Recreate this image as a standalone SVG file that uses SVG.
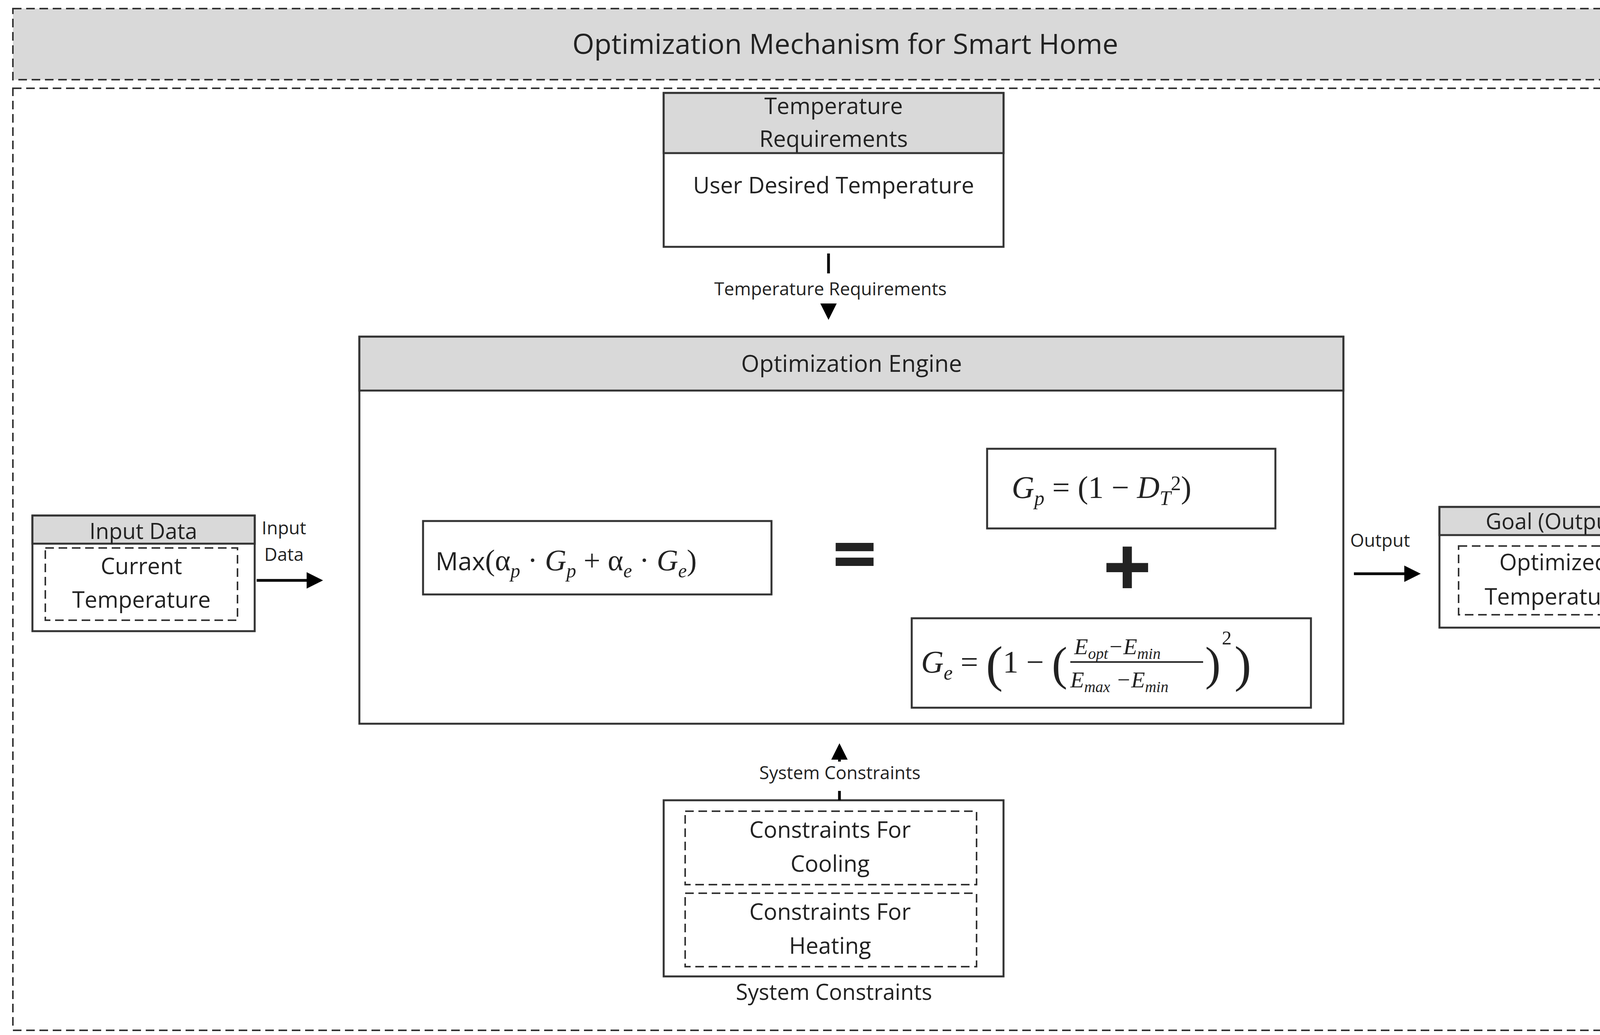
<svg xmlns="http://www.w3.org/2000/svg" width="4309" height="2650" viewBox="0 0 4309 2650">
<style>
.t{font-family:"Open Sans","Liberation Sans",sans-serif;fill:#222;text-anchor:middle}
.m{font-family:"Liberation Serif","DejaVu Serif",serif;fill:#222}
.i{font-style:italic}
.box{fill:#fff;stroke:#333;stroke-width:5}
.hd{fill:#d9d9d9;stroke:#333;stroke-width:5}
.dash{fill:none;stroke:#333;stroke-width:4;stroke-dasharray:22 12}
.ln{stroke:#000;stroke-width:7;fill:none}
</style>
<defs>
<marker id="ah" markerWidth="6" markerHeight="6" refX="5" refY="3" orient="auto" markerUnits="strokeWidth"><path d="M0,0 L6,3 L0,6 Z" fill="#000"/></marker>
</defs>
<rect width="4309" height="2650" fill="#fff"/>
<g id="title">
<rect x="33" y="22" width="4262" height="182" fill="#d9d9d9" stroke="#333" stroke-width="4" stroke-dasharray="22 12"/>
<text class="t" x="2164" y="138" font-size="72">Optimization Mechanism for Smart Home</text>
</g>
<rect x="33" y="226" width="4262" height="2412" class="dash"/>
<g id="temp-req">
<rect x="1699" y="238" width="870" height="394" class="box"/>
<rect x="1699" y="238" width="870" height="154" class="hd"/>
<text class="t" x="2134" y="292" font-size="58">Temperature</text>
<text class="t" x="2134" y="376" font-size="58">Requirements</text>
<text class="t" x="2134" y="495" font-size="58">User Desired Temperature</text>
</g>
<g id="engine">
<rect x="920" y="862" width="2519" height="991" class="box"/>
<rect x="920" y="862" width="2519" height="138" class="hd"/>
<text class="t" x="2180" y="952" font-size="60">Optimization Engine</text>
<rect x="1083" y="1334" width="892" height="188" class="box" stroke-width="3"/>
<text class="m" x="1115" y="1460" font-size="76"><tspan font-family="Open Sans,sans-serif" font-size="64">Max</tspan>(α<tspan class="i" font-size="50" dy="18">p</tspan><tspan dy="-18"> · </tspan><tspan class="i">G</tspan><tspan class="i" font-size="50" dy="18">p</tspan><tspan dy="-18"> + α</tspan><tspan class="i" font-size="50" dy="18">e</tspan><tspan dy="-18"> · </tspan><tspan class="i">G</tspan><tspan class="i" font-size="50" dy="18">e</tspan><tspan dy="-18">)</tspan></text>
<text class="t" x="2188" y="1490" font-size="200" font-weight="bold">=</text>
<rect x="2527" y="1149" width="738" height="204" class="box" stroke-width="3"/>
<text class="m" x="2590" y="1275" font-size="80"><tspan class="i">G</tspan><tspan class="i" font-size="52" dy="18">p</tspan><tspan dy="-18"> = (1 −  </tspan><tspan class="i">D</tspan><tspan class="i" font-size="52" dy="18">T</tspan><tspan font-size="52" dy="-38">2</tspan><tspan dy="20">)</tspan></text>
<text class="t" x="2886" y="1530" font-size="220" font-weight="bold">+</text>
<rect x="2334" y="1583" width="1022" height="229" class="box" stroke-width="3"/>
<text class="m" x="2358" y="1722" font-size="80"><tspan class="i">G</tspan><tspan class="i" font-size="52" dy="18">e</tspan><tspan dy="-18"> = </tspan><tspan font-size="130" dy="22">(</tspan><tspan dy="-22">1 − </tspan><tspan font-size="120" dy="18">(</tspan></text>
<text class="m i" x="2750" y="1675" font-size="58">E<tspan font-size="40" dy="12">opt</tspan><tspan dy="-12">−E</tspan><tspan font-size="40" dy="12">min</tspan></text>
<line x1="2740" y1="1695" x2="3080" y2="1695" stroke="#222" stroke-width="4"/>
<text class="m i" x="2740" y="1760" font-size="58">E<tspan font-size="40" dy="12">max</tspan><tspan dy="-12"> −E</tspan><tspan font-size="40" dy="12">min</tspan></text>
<text class="m" x="3085" y="1740" font-size="120">)</text>
<text class="m" x="3128" y="1650" font-size="50">2</text>
<text class="m" x="3160" y="1744" font-size="130">)</text>
</g>
<g id="input">
<rect x="83" y="1320" width="569" height="296" class="box"/>
<rect x="83" y="1320" width="569" height="72" class="hd"/>
<text class="t" x="367" y="1380" font-size="56">Input Data</text>
<rect x="116" y="1403" width="492" height="185" class="dash"/>
<text class="t" x="362" y="1470" font-size="58">Current</text>
<text class="t" x="362" y="1556" font-size="58">Temperature</text>
</g>
<g id="goal">
<rect x="3685" y="1298" width="591" height="309" class="box"/>
<rect x="3685" y="1298" width="591" height="72" class="hd"/>
<text class="t" x="3980" y="1355" font-size="56">Goal (Output)</text>
<rect x="3734" y="1398" width="492" height="176" class="dash"/>
<text class="t" x="3978" y="1460" font-size="58">Optimized</text>
<text class="t" x="3978" y="1548" font-size="58">Temperature</text>
</g>
<g id="constraints">
<rect x="1699" y="2049" width="870" height="451" class="box"/>
<rect x="1754" y="2077" width="746" height="188" class="dash"/>
<text class="t" x="2125" y="2145" font-size="58">Constraints For</text>
<text class="t" x="2125" y="2232" font-size="58">Cooling</text>
<rect x="1754" y="2287" width="746" height="188" class="dash"/>
<text class="t" x="2125" y="2355" font-size="58">Constraints For</text>
<text class="t" x="2125" y="2442" font-size="58">Heating</text>
<text class="t" x="2135" y="2560" font-size="56">System Constraints</text>
</g>
<g id="connectors">
<line x1="2121" y1="649" x2="2121" y2="700" class="ln"/>
<line x1="2121" y1="790" x2="2121" y2="812" class="ln" marker-end="url(#ah)"/>
<text class="t" x="2126" y="756" font-size="46">Temperature Requirements</text>
<line x1="2149" y1="2049" x2="2149" y2="2025" class="ln"/>
<line x1="2149" y1="1950" x2="2149" y2="1910" class="ln" marker-end="url(#ah)"/>
<text class="t" x="2150" y="1995" font-size="46">System Constraints</text>
<line x1="657" y1="1486" x2="820" y2="1486" class="ln" marker-end="url(#ah)"/>
<text class="t" x="727" y="1368" font-size="46">Input</text>
<text class="t" x="727" y="1436" font-size="46">Data</text>
<line x1="3466" y1="1469" x2="3630" y2="1469" class="ln" marker-end="url(#ah)"/>
<text class="t" x="3533" y="1400" font-size="46">Output</text>
</g>
</svg>
